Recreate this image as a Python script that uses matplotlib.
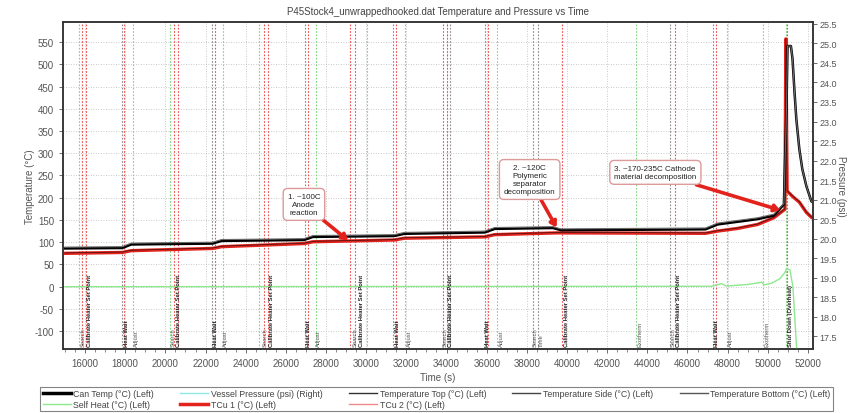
import numpy as np
import matplotlib
matplotlib.use("Agg")
import matplotlib.pyplot as plt
from matplotlib.ticker import MultipleLocator, FormatStrFormatter
from matplotlib.lines import Line2D

plt.rcParams['font.family'] = ['Liberation Sans', 'DejaVu Sans']
plt.rcParams['axes.unicode_minus'] = False

# --- ARC run: temperatures (deg C, left) -------------------------------------
t_can = [15000, 17850, 18300, 22350, 22800, 26900, 27350, 31400, 31900, 35900,
         36400, 39300, 39700, 46900, 47500, 48500, 49500, 50300, 50800, 50930,
         50980, 51150, 51230, 51330, 51420, 51570, 51720, 51920, 52170, 52300]
can_temp = [86, 87, 95, 97, 103, 105, 112, 114, 119, 122,
            130, 132, 127, 129, 140, 146, 152, 160, 185, 400,
            541, 541, 512, 437, 377, 309, 264, 226, 192, 188]
temp_top = [89, 90, 98, 100, 106, 108, 115, 117, 122, 125,
            133, 135, 130, 132, 143, 149, 155, 163, 187, 400,
            541, 541, 512, 437, 377, 309, 264, 226, 192, 188]

t_tcu = [15000, 17850, 18300, 22350, 22800, 26900, 27350, 31400, 31900, 35900,
         36400, 39500, 46900, 47500, 48500, 49500, 50300, 50850, 50900, 50960,
         51230, 51570, 51920, 52170, 52300]
tcu1 = [75, 77, 81, 86, 90, 97, 101, 105, 109, 112,
        117, 121, 120, 125, 131, 140, 155, 174, 557, 215,
        203, 190, 167, 156, 153]

t_heat = [15000, 47200, 47700, 47900, 48100, 49000, 49700, 49800, 50200, 50600,
          50850, 50930, 51100, 51250, 51450]
self_heat = [0, 1, 7, 2, 2, 5, 10, 4, 8, 18, 32, 41, 38, 0, -150]

# --- event markers --------------------------------------------------------
ev_times = [15700, 15850, 16050, 17850, 17950, 18400, 20250, 20450, 20650,
            22300, 22450, 22850, 24650, 24900, 25100, 26950, 27100, 27500,
            29200, 29450, 30050, 31350, 31500, 31950, 33800, 34000, 34150,
            35900, 36050, 36500, 38300, 38550, 39750, 43450, 45150, 45400,
            47250, 47400, 47950, 49750, 50900, 50950]
ev_colors = ['g', 'r', 'r', 'k', 'r', 'g', 'g', 'r', 'r',
             'k', 'r', 'g', 'g', 'r', 'r', 'k', 'r', 'g',
             'r', 'r', 'g', 'k', 'r', 'g', 'r', 'r', 'k',
             'k', 'r', 'g', 'k', 'k', 'r', 'g', 'k', 'r',
             'k', 'r', 'g', 'g', 'g', 'r']
lab_times = [15750, 16050, 17900, 18400, 20200, 20500, 22350, 22850, 24800,
             25100, 26950, 27450, 29300, 29600, 31400, 32000, 33750, 34050,
             35900, 36550, 38250, 38550, 39800, 43450, 45100, 45400, 47300,
             48000, 49800, 50950]
lab_texts = ['Search', 'Calibrate Heater Set Point', 'Heat Wait', 'Adjust',
             'Search', 'Calibrate Heater Set Point', 'Heat Wait', 'Adjust',
             'Search', 'Calibrate Heater Set Point', 'Heat Wait', 'Adjust',
             'Search', 'Calibrate Heater Set Point', 'Heat Wait', 'Adjust',
             'Search', 'Calibrate Heater Set Point', 'Heat Wait', 'Adjust',
             'Search', 'Time', 'Calibrate Heater Set Point', 'Exotherm',
             'Search', 'Calibrate Heater Set Point', 'Heat Wait', 'Adjust',
             'Exotherm', 'Shut Down (Overheat)']

notes = ["1. ~100C\nAnode\nreaction",
         "2. ~120C\nPolymeric\nseparator\ndecomposition",
         "3. ~170-235C Cathode\nmaterial decomposition"]
note_xy = [(26900, 185), (38140, 241), (44400, 257)]
note_tip = [(29100, 104), (39480, 133), (50620, 172)]

colmap = {'g': '#7fd67f', 'r': '#e85050', 'k': '#8a8a8a'}

fig = plt.figure(figsize=(8.48, 4.14), dpi=100)
ax = fig.add_axes([63 / 848, 1 - 350 / 414, 750 / 848, 327 / 414])
ax2 = ax.twinx()

ax.set_xlim(14900, 52250)
ax.set_ylim(-140, 595)
ax2.set_ylim(17.17, 25.55)

ax.xaxis.set_major_locator(MultipleLocator(2000))
ax.xaxis.set_minor_locator(MultipleLocator(500))
ax.set_yticks(np.arange(-100, 551, 50))
ax2.yaxis.set_major_locator(MultipleLocator(0.5))
ax2.yaxis.set_major_formatter(FormatStrFormatter('%.1f'))

ax.grid(True, color='#b8b8b8', lw=0.6, ls=(0, (1, 2)))
ax.set_axisbelow(True)

for t, c in zip(ev_times, ev_colors):
    ax.axvline(t, color=colmap[c], lw=0.8, ls=(0, (1.5, 1.5)), zorder=1)

for t, s in zip(lab_times, lab_texts):
    bold = s in ('Heat Wait', 'Calibrate Heater Set Point', 'Shut Down (Overheat)')
    ax.text(t + 40, -133, s, rotation=90, ha='left', va='bottom', fontsize=4.2,
            color='#222' if bold else '#555', fontweight='bold' if bold else 'normal',
            zorder=4)

ax.plot(t_heat, self_heat, color='#8ee88e', lw=1.0, zorder=3)
ax.plot(t_tcu, tcu1, color='#e3221c', lw=2.4, zorder=5)
ax.plot(t_tcu, [v + 1 for v in tcu1], color='#3a1010', lw=0.5, zorder=6)
ax.plot(t_can, can_temp, color='black', lw=1.8, zorder=5)
ax.plot(t_can, temp_top, color='#6a6a6a', lw=0.8, zorder=6)

for txt, xy, tip in zip(notes, note_xy, note_tip):
    ax.annotate(txt, xy=tip, xytext=xy, ha='center', va='center',
                multialignment='left' if txt.startswith('3') else 'center',
                fontsize=5.8, color='#222', zorder=8,
                bbox=dict(boxstyle='round,pad=0.55', fc='white', ec='#dd9a9a', lw=1.0),
                arrowprops=dict(arrowstyle='-|>,head_width=0.35,head_length=0.55',
                                color='#e3221c', lw=2.6, shrinkA=0, shrinkB=0))

for a in (ax, ax2):
    a.tick_params(labelsize=7, colors='#555', length=3, width=0.6)
    for sp in a.spines.values():
        sp.set_color('#333')
        sp.set_linewidth(1.1)
ax2.tick_params(labelsize=6.5, pad=1.5)
ax.tick_params(which='minor', length=2, colors='#777')

ax.set_ylabel('Temperature (°C)', fontsize=7, color='#555', va='center')
ax.yaxis.set_label_coords(-0.044, 0.5)
ax2.set_ylabel('Pressure (psi)', fontsize=7, color='#555', rotation=-90, va='center')
ax2.yaxis.set_label_coords(1.038, 0.5)
ax.set_xlabel('Time (s)', fontsize=7, color='#555', labelpad=3)
ax.set_title('P45Stock4_unwrappedhooked.dat Temperature and Pressure vs Time',
             fontsize=7, color='#444', pad=6)

# legend entries in column order so rows read Can/Vessel/Top/Side/Bottom, Self/TCu1/TCu2
handles = [Line2D([], [], color='black', lw=2.5),
           Line2D([], [], color='#8ee88e', lw=1),
           Line2D([], [], color='#8ee8e8', lw=1),
           Line2D([], [], color='#e3221c', lw=2.5),
           Line2D([], [], color='#333', lw=1),
           Line2D([], [], color='#f08a8a', lw=1),
           Line2D([], [], color='#444', lw=1),
           Line2D([], [], color='#555', lw=1)]
labels = ['Can Temp (°C) (Left)', 'Self Heat (°C) (Left)',
          'Vessel Pressure (psi) (Right)', 'TCu 1 (°C) (Left)',
          'Temperature Top (°C) (Left)', 'TCu 2 (°C) (Left)',
          'Temperature Side (°C) (Left)', 'Temperature Bottom (°C) (Left)']
leg = fig.legend(handles, labels, ncol=5, loc='upper left',
                 bbox_to_anchor=(40 / 848, 1 - 392 / 414, 793 / 848, 0.01),
                 mode='expand', fontsize=6.3, frameon=True, fancybox=False,
                 handlelength=3.2, handletextpad=0.3, labelspacing=0.15,
                 borderpad=0.3, borderaxespad=0)
leg.get_frame().set_edgecolor('#666')
leg.get_frame().set_linewidth(0.8)
for tx in leg.get_texts():
    tx.set_color('#444')

fig.savefig('out.png', dpi=100)
